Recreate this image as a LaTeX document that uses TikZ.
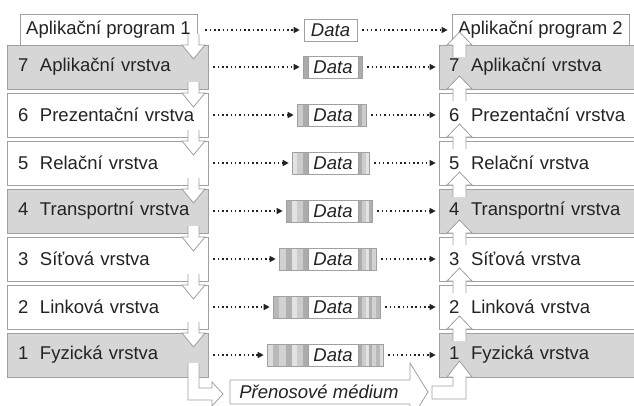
\documentclass[tikz,border=0pt]{standalone}
\usepackage{fontspec}
\setmainfont{Liberation Sans}
\usetikzlibrary{arrows.meta}

\definecolor{laygray}{RGB}{214,214,214}
\definecolor{edgegray}{RGB}{160,160,160}
\definecolor{inkgray}{RGB}{35,35,35}
\colorlet{band1}{gray!28}
\colorlet{band2}{gray!55}
\colorlet{band3}{gray!35}
\colorlet{band4}{gray!62}
\colorlet{band5}{gray!22}
\colorlet{band6}{gray!40}
\colorlet{band7}{gray!65}

\tikzset{
  lbl/.style={font=\fontsize{18.5}{22}\selectfont, text=inkgray},
  layerbox/.style={lbl, draw=edgegray, line width=0.8pt, minimum height=44pt, align=left, inner xsep=11pt},
  progbox/.style={lbl, draw=edgegray, fill=white, line width=0.8pt, minimum width=177pt, minimum height=32pt},
  datanode/.style={lbl, font=\fontsize{18.5}{22}\selectfont\itshape, draw=edgegray, fill=white, line width=0.6pt, minimum width=50pt, minimum height=22pt, inner sep=0pt},
  packetbox/.style={draw=edgegray, line width=0.6pt, minimum height=22pt, inner sep=0pt},
  dotarrow/.style={draw=inkgray, line width=1.3pt, dash pattern=on 1.5pt off 2.8pt, -{Triangle[length=6pt,width=6pt]}},
  blockarrow/.style={draw=edgegray, line width=0.8pt, fill=white, line join=miter},
}

\begin{document}
\begin{tikzpicture}[x=1pt,y=-1pt]
\useasboundingbox (0,0) rectangle (634,405);
\clip (0,0) rectangle (634,405);

\node[progbox] (A1) at (108.5,30) {Aplikační program 1};
\node[progbox] (A2) at (540.5,30) {Aplikační program 2};
\node[datanode, minimum width=53pt] (D0) at (330.5,30) {Data};
\draw[dotarrow, shorten <=8pt, shorten >=4pt] (A1) -- (D0);
\draw[dotarrow, shorten <=5pt, shorten >=4pt] (D0) -- (A2);

\foreach \k/\lname/\boxfill [evaluate=\k as \yc using 67+(7-\k)*48] in {7/Aplikační vrstva/laygray,6/Prezentační vrstva/white,5/Relační vrstva/white,4/Transportní vrstva/laygray,3/Síťová vrstva/white,2/Linková vrstva/white,1/Fyzická vrstva/laygray} {%
    \node[layerbox, fill=\boxfill, text width=179pt] (L\k) at (107.5,\yc) {\k\hspace{0.3em} \lname};
    \node[layerbox, fill=\boxfill, text width=190pt, inner xsep=10pt] (R\k) at (544,\yc) {\k\hspace{0.3em} \lname};
    \pgfmathsetmacro\hw{{0,41,35,29,22,16,11,5,0}[\k]}
    \pgfmathsetmacro\tw{{0,25,22,18,14,11,8,4,0}[\k]}
    \foreach \j in {\k,...,7} {%
        \pgfmathsetmacro\ha{{0,41,35,29,22,16,11,5,0}[\j]}
        \pgfmathsetmacro\hb{{0,41,35,29,22,16,11,5,0}[\j+1]}
        \pgfmathsetmacro\ta{{0,25,22,18,14,11,8,4,0}[\j]}
        \pgfmathsetmacro\tb{{0,25,22,18,14,11,8,4,0}[\j+1]}
        \fill[band\j] ({308-\ha},{\yc-11}) rectangle ({308-\hb},{\yc+11});
        \fill[band\j] ({358+\tb},{\yc-11}) rectangle ({358+\ta},{\yc+11});
    }
    \node[packetbox, minimum width={50+\hw+\tw}] (P\k) at ({333+(\tw-\hw)/2},\yc) {};
    \node[datanode] (D\k) at (333,\yc) {Data};
    \draw[dotarrow, shorten <=5pt, shorten >=3pt] (L\k) -- (P\k);
    \draw[dotarrow, shorten <=5pt, shorten >=3pt] (P\k) -- (R\k);
}

\foreach \yt in {45,93,...,333}
    \path[blockarrow] (188,{\yt-11}) -- (188,\yt) -- (182,\yt) -- (193.5,{\yt+14}) -- (205,\yt) -- (199,\yt) -- (199,{\yt-11});
\foreach \yb in {45,89,137,185,233,281,329}
    \path[blockarrow] (453,{\yb+12}) -- (453,\yb) -- (447,\yb) -- (459.5,{\yb-13}) -- (472,\yb) -- (466,\yb) -- (466,{\yb+12});

\path[blockarrow] (188,363) -- (188,400) -- (212,400) -- (212,406) -- (223,394) -- (212,382) -- (212,388) -- (199,388) -- (199,363);
\path[blockarrow] (432,386) -- (453,386) -- (453,377) -- (447,377) -- (459.5,361) -- (472,377) -- (466,377) -- (466,399) -- (432,399) -- cycle;
\path[blockarrow] (230,380) -- (410,380) -- (410,363) -- (428,392) -- (410,421) -- (410,404) -- (230,404) -- cycle;
\node[lbl, font=\fontsize{18.5}{22}\selectfont\itshape] (M) at (319,392) {Přenosové médium};
\end{tikzpicture}
\end{document}
